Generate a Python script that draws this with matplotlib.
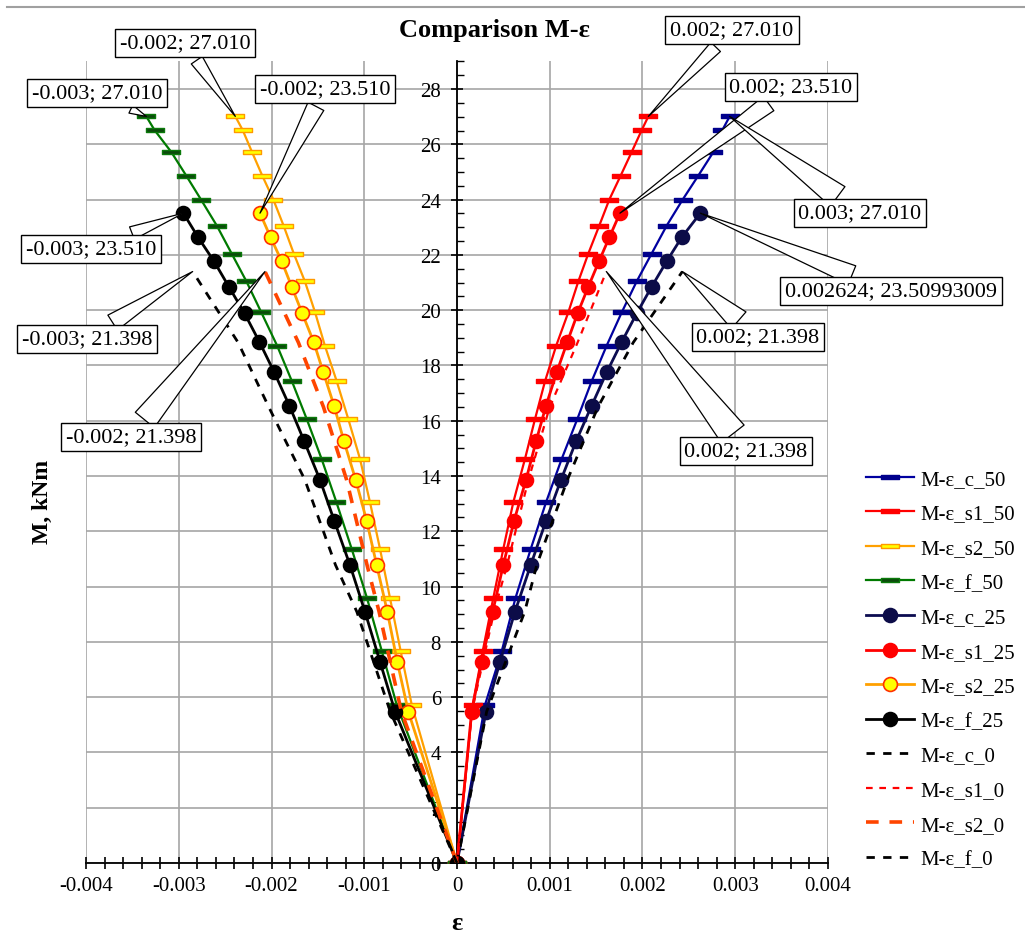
import numpy as np
import matplotlib
matplotlib.use('Agg')
import matplotlib.pyplot as plt
from matplotlib.path import Path
from matplotlib.lines import Line2D
from matplotlib.ticker import MultipleLocator, FuncFormatter

plt.rcParams['font.family'] = ['Liberation Serif', 'DejaVu Serif']

# ---------------- data ----------------
M50 = [0, 5.72, 7.66, 9.58, 11.36, 13.05, 14.62, 16.06, 17.43, 18.72, 19.92,
       21.04, 22.05, 23.06, 24.0, 24.87, 25.72, 26.51, 27.01]
eps_c_50 = [0, 0.000302, 0.000482, 0.00063, 0.000795, 0.00096, 0.001129, 0.001297,
            0.001452, 0.001614, 0.001776, 0.001937, 0.002099, 0.002261, 0.002433,
            0.002602, 0.002764, 0.00286, 0.00294]
eps_s1_50 = [0, 0.000169, 0.000277, 0.000391, 0.000499, 0.000607, 0.000733, 0.000841,
             0.000949, 0.00107, 0.0012, 0.001308, 0.001416, 0.001534, 0.001642,
             0.001765, 0.001883, 0.001991, 0.002063]
eps_s2_50 = [0, -0.000488, -0.000607, -0.000722, -0.00083, -0.000938, -0.001046,
             -0.001172, -0.001297, -0.001425, -0.00153, -0.00164, -0.00176, -0.00187,
             -0.00198, -0.0021, -0.00221, -0.00231, -0.00239]
eps_f_50 = [0, -0.00065, -0.00081, -0.00097, -0.001135, -0.0013, -0.00146, -0.00162,
            -0.00178, -0.00194, -0.00211, -0.00227, -0.00243, -0.00259, -0.00276,
            -0.00292, -0.00308, -0.00326, -0.00335]

M25 = [0, 5.48, 7.28, 9.09, 10.78, 12.38, 13.86, 15.25, 16.55, 17.75, 18.85,
       19.88, 20.85, 21.77, 22.63, 23.50993009]
eps_c_25 = [0, 0.000313, 0.000464, 0.000625, 0.000795, 0.00096, 0.001121, 0.001283,
            0.001452, 0.001614, 0.001776, 0.001937, 0.002099, 0.002261, 0.002422,
            0.002624]
eps_s1_25 = [0, 0.000158, 0.000266, 0.000385, 0.000499, 0.000615, 0.000744, 0.000852,
             0.00096, 0.001075, 0.001189, 0.0013, 0.001416, 0.001531, 0.001642,
             0.001757]
eps_s2_25 = [0, -0.000525, -0.000644, -0.000751, -0.000866, -0.000974, -0.001092,
             -0.001218, -0.001326, -0.001441, -0.001545, -0.001668, -0.001782,
             -0.00189, -0.002009, -0.002124]
eps_f_25 = [0, -0.000668, -0.00083, -0.000992, -0.001154, -0.001323, -0.001477,
            -0.001646, -0.001808, -0.00197, -0.00213, -0.00229, -0.00246, -0.00262,
            -0.00279, -0.00295]

M0 = [0, 5.48, 9.09, 10.78, 13.86, 16.5, 18.83, 21.398]
eps_c_0 = [0, 0.00032, 0.00073, 0.00086, 0.00119, 0.00152, 0.0019, 0.00243]
eps_s1_0 = [0, 0.00016, 0.0004, 0.00054, 0.00077, 0.001, 0.0013, 0.00161]
eps_s2_0 = [0, -0.0006, -0.00084, -0.00097, -0.00119, -0.00144, -0.00171, -0.00207]
eps_f_0 = [0, -0.00072, -0.00108, -0.00131, -0.00164, -0.00203, -0.00236, -0.00285]

x_ticks = [-0.004, -0.003, -0.002, -0.001, 0, 0.001, 0.002, 0.003, 0.004]
y_ticks = list(range(0, 29, 2))

# ---------------- figure ----------------
W, H = 1025, 937
fig = plt.figure(figsize=(W / 100, H / 100), dpi=100)
ax = fig.add_axes([86 / W, 73 / H, 742 / W, 801.6 / H])

bar = Path([(-1, -0.24), (1, -0.24), (1, 0.24), (-1, 0.24), (-1, -0.24)],
           [Path.MOVETO, Path.LINETO, Path.LINETO, Path.LINETO, Path.CLOSEPOLY])

handles = []
def bar_series(eps, M, lc, fc, ec, label):
    h, = ax.plot(eps, M, color=lc, lw=1.6, marker=bar, ms=13, mfc=fc, mec=ec,
                 mew=1.0, label=label, zorder=3)
    handles.append(h)

def circ_series(eps, M, lc, fc, ec, label):
    h, = ax.plot(eps, M, color=lc, lw=2.0, marker='o', ms=10, mfc=fc, mec=ec,
                 mew=1.2, label=label, zorder=4)
    handles.append(h)

def dash_series(eps, M, lc, lw, dashes, label):
    h, = ax.plot(eps, M, color=lc, lw=lw, ls=(0, dashes), label=label, zorder=5)
    handles.append(h)

bar_series(eps_c_50, M50, '#0000a0', '#00008c', '#00008c', 'M-ε_c_50')
bar_series(eps_s1_50, M50, '#ff0000', '#ff0000', '#ff0000', 'M-ε_s1_50')
bar_series(eps_s2_50, M50, '#ffa000', '#ffff00', '#ff9900', 'M-ε_s2_50')
bar_series(eps_f_50, M50, '#007a00', '#0b4a0b', '#0b7a0b', 'M-ε_f_50')
circ_series(eps_c_25, M25, '#0c0c50', '#0c0c48', '#0c0c48', 'M-ε_c_25')
circ_series(eps_s1_25, M25, '#ff0000', '#ff0000', '#ff0000', 'M-ε_s1_25')
circ_series(eps_s2_25, M25, '#ffa000', '#ffff00', '#ff3000', 'M-ε_s2_25')
circ_series(eps_f_25, M25, '#000000', '#000000', '#000000', 'M-ε_f_25')
dash_series(eps_c_0, M0, '#000000', 2.0, (3, 3), 'M-ε_c_0')
dash_series(eps_s1_0, M0, '#ff0000', 1.6, (3, 3), 'M-ε_s1_0')
dash_series(eps_s2_0, M0, '#ff4500', 2.6, (3.5, 3), 'M-ε_s2_0')
dash_series(eps_f_0, M0, '#000000', 2.0, (3, 3), 'M-ε_f_0')

# ---------------- axes styling ----------------
ax.set_xlim(-0.004, 0.004)
ax.set_ylim(0, 29)
ax.set_axisbelow(True)
ax.spines['top'].set_visible(False)
ax.spines['right'].set_visible(False)
ax.spines['left'].set_position(('data', 0))
ax.spines['left'].set_linewidth(1.3)
ax.spines['bottom'].set_linewidth(1.3)
ax.set_xticks(x_ticks)
ax.set_yticks(y_ticks)
ax.xaxis.set_minor_locator(MultipleLocator(0.0002))
ax.yaxis.set_minor_locator(MultipleLocator(0.5))
ax.xaxis.set_major_formatter(FuncFormatter(lambda v, p: '0' if abs(v) < 1e-12 else f'{v:.3f}'))
ax.yaxis.set_major_formatter(FuncFormatter(lambda v, p: f'{v:.0f}'))
ax.tick_params(axis='x', which='both', direction='inout', length=9, width=1.2,
               labelsize=15, pad=5)
ax.tick_params(axis='y', which='major', direction='inout', length=9, width=1.2,
               labelsize=15, pad=7)
ax.tick_params(axis='y', which='minor', direction='in', length=5, width=1.0)
ax.grid(True, which='major', color='#a6a6a6', lw=1.2)
ax.patch.set_visible(False)

# ---------------- annotations ----------------
def callout(text, eps_list, M_list, cx, cy, tw=1.0):
    ax.annotate(text, xy=(eps_list[-1], M_list[-1]), xycoords='data',
                xytext=(cx, H - cy), textcoords='figure pixels',
                ha='center', va='center', fontsize=16, zorder=10,
                bbox=dict(boxstyle='square,pad=0.22', fc='white', ec='black', lw=1.0),
                arrowprops=dict(arrowstyle=f'wedge,tail_width={tw}', fc='white',
                                ec='black', lw=0.9, shrinkB=0))

callout('-0.003; 27.010', eps_f_50, M50, 97, 94, 0.4)
callout('-0.002; 27.010', eps_s2_50, M50, 185, 44, 0.6)
callout('-0.002; 23.510', eps_s2_25, M25, 325, 90, 0.8)
callout('-0.003; 23.510', eps_f_25, M25, 91, 250, 0.6)
callout('-0.003; 21.398', eps_f_0, M0, 87, 340, 0.8)
callout('-0.002; 21.398', eps_s2_0, M0, 131, 438, 1.1)
callout('0.002; 27.010', eps_s1_50, M50, 732, 31, 0.6)
callout('0.002; 23.510', eps_s1_25, M25, 791, 88, 0.8)
callout('0.003; 27.010', eps_c_50, M50, 860, 214, 1.1)
callout('0.002624; 23.50993009', eps_c_25, M25, 891, 292, 0.9)
callout('0.002; 21.398', eps_c_0, M0, 758, 338, 1.0)
callout('0.002; 21.398', eps_s1_0, M0, 746, 452, 1.3)

# ---------------- titles / labels ----------------
fig.text(494 / W, 1 - 30 / H, 'Comparison M-ε', ha='center', va='center',
         fontsize=19, fontweight='bold')
fig.text(42 / W, 1 - 502 / H, 'M, kNm', ha='center', va='center', rotation=90,
         fontsize=17, fontweight='bold')
fig.text(457 / W, 1 - 924 / H, 'ε', ha='center', va='center',
         fontsize=19, fontweight='bold')

fig.add_artist(Line2D([7 / W, 1.0], [1 - 8 / H, 1 - 8 / H], color='#a0a0a0', lw=1.5))

fig.legend(handles=handles, loc='upper left', bbox_to_anchor=(858 / W, 1 - 462 / H),
           frameon=False, fontsize=15, handlelength=2.3, labelspacing=0.72,
           handletextpad=0.3, borderaxespad=0)

fig.savefig('out.png', dpi=100)
